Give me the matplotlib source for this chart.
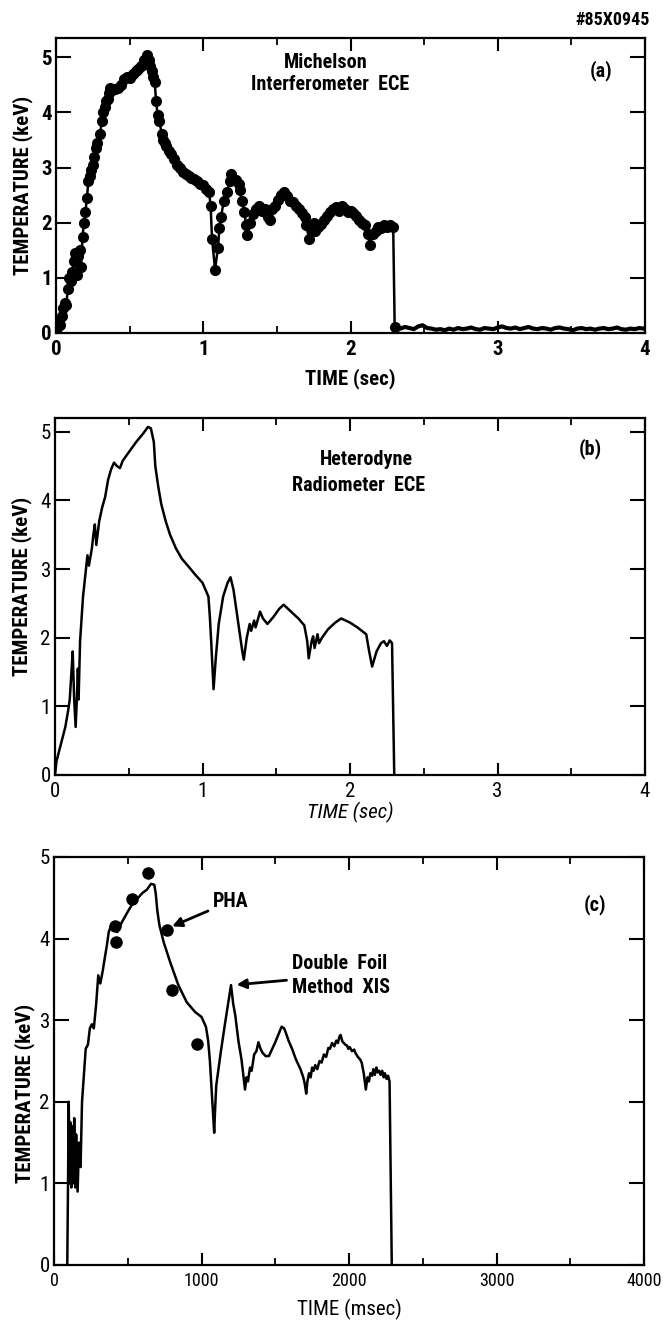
import matplotlib
matplotlib.use("Agg")
import matplotlib.pyplot as plt
from matplotlib.ticker import MultipleLocator

plt.rcParams['font.family'] = ['Roboto Condensed', 'DejaVu Sans']
plt.rcParams['font.stretch'] = 'condensed'

# ---------------- data ----------------
# (a) Michelson interferometer ECE, time in sec, Te in keV
mich_t = [0.00, 0.01, 0.02, 0.03, 0.04, 0.05, 0.06, 0.07, 0.08, 0.09,
          0.10, 0.11, 0.12, 0.13, 0.14, 0.15, 0.16, 0.17, 0.18, 0.19,
          0.20, 0.21, 0.22, 0.23, 0.24, 0.25, 0.26, 0.27, 0.28, 0.30,
          0.31, 0.32, 0.33, 0.34, 0.35, 0.36, 0.37, 0.38, 0.40, 0.42,
          0.44, 0.46, 0.48, 0.50, 0.52, 0.54, 0.56, 0.58, 0.60, 0.62,
          0.63, 0.64, 0.65, 0.66, 0.67, 0.68, 0.69, 0.70, 0.72, 0.73,
          0.74, 0.75, 0.77, 0.78, 0.80, 0.82, 0.84, 0.86, 0.88, 0.90,
          0.92, 0.94, 0.96, 0.98, 1.00, 1.02, 1.04, 1.05, 1.06, 1.08,
          1.10, 1.11, 1.12, 1.14, 1.16, 1.18, 1.19, 1.20, 1.22, 1.24,
          1.25, 1.26, 1.28, 1.29, 1.30, 1.32, 1.34, 1.36, 1.38, 1.40,
          1.42, 1.44, 1.45, 1.47, 1.49, 1.51, 1.53, 1.55, 1.57, 1.59,
          1.61, 1.63, 1.65, 1.67, 1.69, 1.70, 1.72, 1.73, 1.75, 1.76,
          1.78, 1.80, 1.82, 1.84, 1.86, 1.88, 1.90, 1.92, 1.94, 1.96,
          1.98, 2.00, 2.02, 2.04, 2.06, 2.08, 2.10, 2.12, 2.13, 2.15,
          2.17, 2.19, 2.21, 2.23, 2.25, 2.27, 2.29, 2.30]
mich_T = [0.05, 0.10, 0.20, 0.15, 0.30, 0.45, 0.55, 0.50, 0.80, 1.00,
          0.95, 1.10, 1.30, 1.45, 1.05, 1.40, 1.50, 1.20, 1.75, 2.00,
          2.20, 2.45, 2.75, 2.85, 2.95, 3.05, 3.20, 3.35, 3.45, 3.60,
          3.85, 4.00, 4.10, 4.20, 4.25, 4.35, 4.45, 4.40, 4.42, 4.45,
          4.50, 4.60, 4.65, 4.62, 4.70, 4.75, 4.78, 4.85, 4.95, 5.05,
          4.95, 4.85, 4.75, 4.65, 4.55, 4.20, 3.95, 3.85, 3.60, 3.50,
          3.45, 3.40, 3.30, 3.25, 3.15, 3.05, 3.00, 2.92, 2.88, 2.85,
          2.82, 2.80, 2.75, 2.70, 2.68, 2.62, 2.55, 2.30, 1.70, 1.15,
          1.55, 1.90, 2.10, 2.40, 2.55, 2.75, 2.88, 2.80, 2.78, 2.70,
          2.60, 2.40, 2.20, 1.95, 1.78, 2.00, 2.15, 2.25, 2.30, 2.22,
          2.25, 2.10, 2.05, 2.25, 2.30, 2.42, 2.50, 2.55, 2.48, 2.40,
          2.38, 2.30, 2.25, 2.18, 2.10, 1.95, 1.70, 1.88, 2.00, 1.85,
          1.92, 1.98, 2.05, 2.12, 2.20, 2.25, 2.28, 2.22, 2.30, 2.25,
          2.20, 2.22, 2.18, 2.12, 2.05, 2.00, 1.95, 1.80, 1.60, 1.80,
          1.85, 1.92, 1.90, 1.95, 1.92, 1.95, 1.92, 0.10]
tail_t = [2.31, 2.34, 2.37, 2.40, 2.43, 2.46, 2.49, 2.52, 2.55, 2.58,
          2.61, 2.64, 2.67, 2.70, 2.73, 2.76, 2.79, 2.82, 2.85, 2.88,
          2.91, 2.94, 2.97, 3.00, 3.03, 3.06, 3.09, 3.12, 3.15, 3.18,
          3.21, 3.24, 3.27, 3.30, 3.33, 3.36, 3.39, 3.42, 3.45, 3.48,
          3.51, 3.54, 3.57, 3.60, 3.63, 3.66, 3.69, 3.72, 3.75, 3.78,
          3.81, 3.84, 3.87, 3.90, 3.93, 3.96, 3.99]
tail_T = [0.10, 0.08, 0.11, 0.09, 0.07, 0.12, 0.14, 0.09, 0.08, 0.06,
          0.07, 0.05, 0.08, 0.06, 0.09, 0.07, 0.08, 0.10, 0.07, 0.06,
          0.09, 0.08, 0.07, 0.10, 0.12, 0.09, 0.08, 0.10, 0.07, 0.09,
          0.11, 0.08, 0.07, 0.09, 0.08, 0.06, 0.09, 0.10, 0.08, 0.07,
          0.05, 0.08, 0.09, 0.07, 0.08, 0.06, 0.08, 0.09, 0.07, 0.08,
          0.10, 0.07, 0.06, 0.08, 0.07, 0.09, 0.08]

# (b) Heterodyne radiometer ECE
het_t = [0.00, 0.01, 0.04, 0.07, 0.09, 0.10, 0.11, 0.12, 0.13, 0.14,
         0.15, 0.155, 0.16, 0.17, 0.19, 0.21, 0.22, 0.23, 0.25, 0.26,
         0.27, 0.28, 0.30, 0.32, 0.34, 0.36, 0.38, 0.40, 0.42, 0.44,
         0.46, 0.50, 0.55, 0.60, 0.63, 0.65, 0.67, 0.68, 0.70, 0.72,
         0.75, 0.78, 0.82, 0.86, 0.90, 0.95, 1.00, 1.02, 1.04, 1.05,
         1.06, 1.075, 1.09, 1.11, 1.14, 1.17, 1.19, 1.21, 1.23, 1.25,
         1.27, 1.28, 1.30, 1.32, 1.33, 1.35, 1.36, 1.38, 1.39, 1.41,
         1.44, 1.48, 1.52, 1.55, 1.60, 1.65, 1.69, 1.71, 1.72, 1.74,
         1.75, 1.76, 1.78, 1.79, 1.81, 1.85, 1.90, 1.94, 2.00, 2.05,
         2.11, 2.13, 2.15, 2.18, 2.21, 2.23, 2.25, 2.27, 2.285, 2.30]
het_T = [0.00, 0.20, 0.45, 0.70, 0.95, 1.10, 1.45, 1.80, 1.10, 0.70,
         1.20, 1.55, 1.10, 1.95, 2.60, 3.00, 3.20, 3.05, 3.30, 3.50,
         3.65, 3.35, 3.70, 3.90, 4.05, 4.30, 4.45, 4.55, 4.50, 4.47,
         4.58, 4.70, 4.85, 4.98, 5.07, 5.05, 4.85, 4.50, 4.20, 3.95,
         3.70, 3.50, 3.30, 3.15, 3.05, 2.92, 2.80, 2.70, 2.60, 2.30,
         1.90, 1.25, 1.70, 2.20, 2.60, 2.80, 2.88, 2.70, 2.40, 2.10,
         1.80, 1.68, 2.00, 2.20, 2.10, 2.25, 2.15, 2.30, 2.38, 2.28,
         2.20, 2.30, 2.42, 2.48, 2.38, 2.28, 2.18, 1.95, 1.70, 1.95,
         2.02, 1.85, 2.05, 1.92, 2.00, 2.12, 2.22, 2.28, 2.22, 2.15,
         2.05, 1.80, 1.58, 1.80, 1.92, 1.95, 1.88, 1.96, 1.92, 0.00]

# (c) Double foil method XIS (time in msec)
xis_t = [90, 100, 105, 110, 118, 125, 130, 137, 145, 150,
         160, 170, 180, 190, 205, 215, 230, 243, 257, 270,
         286, 300, 314, 330, 343, 357, 371, 385, 400, 414,
         429, 445, 460, 500, 530, 570, 600, 630, 657, 680,
         690, 700, 714, 743, 786, 843, 900, 957, 1000, 1030,
         1045, 1057, 1070, 1080, 1086, 1092, 1100, 1130, 1157, 1185,
         1200, 1215, 1229, 1250, 1271, 1285, 1295, 1305, 1315, 1329,
         1340, 1357, 1372, 1386, 1400, 1414, 1435, 1457, 1480, 1500,
         1520, 1543, 1560, 1571, 1590, 1614, 1640, 1671, 1690, 1700,
         1710, 1718, 1729, 1740, 1750, 1760, 1771, 1785, 1800, 1814,
         1830, 1845, 1860, 1871, 1885, 1900, 1914, 1925, 1935, 1943,
         1955, 1965, 1975, 1986, 1995, 2005, 2020, 2035, 2043, 2060,
         2075, 2086, 2100, 2110, 2114, 2125, 2135, 2145, 2157, 2165,
         2175, 2186, 2195, 2205, 2214, 2225, 2235, 2243, 2255, 2265,
         2275, 2290]
xis_T = [0.00, 2.00, 1.00, 1.75, 0.95, 1.70, 1.00, 1.80, 0.95, 1.60,
         0.90, 1.50, 1.20, 2.00, 2.40, 2.65, 2.70, 2.90, 2.95, 2.90,
         3.20, 3.55, 3.45, 3.60, 3.75, 3.90, 4.08, 4.15, 4.17, 4.12,
         4.08, 4.15, 4.20, 4.33, 4.42, 4.50, 4.56, 4.60, 4.67, 4.66,
         4.55, 4.35, 4.17, 3.96, 3.72, 3.43, 3.22, 3.10, 3.04, 2.92,
         2.75, 2.50, 2.10, 1.80, 1.62, 1.90, 2.20, 2.60, 2.93, 3.25,
         3.43, 3.20, 3.06, 2.75, 2.52, 2.30, 2.15, 2.30, 2.25, 2.42,
         2.38, 2.58, 2.62, 2.73, 2.65, 2.60, 2.56, 2.56, 2.65, 2.73,
         2.82, 2.92, 2.90, 2.85, 2.75, 2.65, 2.52, 2.40, 2.30, 2.22,
         2.10, 2.25, 2.35, 2.30, 2.42, 2.38, 2.45, 2.40, 2.50, 2.48,
         2.58, 2.55, 2.66, 2.65, 2.72, 2.68, 2.75, 2.72, 2.80, 2.82,
         2.74, 2.72, 2.70, 2.69, 2.65, 2.67, 2.62, 2.64, 2.60, 2.55,
         2.52, 2.48, 2.35, 2.20, 2.15, 2.30, 2.25, 2.35, 2.32, 2.40,
         2.33, 2.42, 2.36, 2.38, 2.33, 2.38, 2.30, 2.35, 2.28, 2.32,
         2.25, 0.00]

# (c) PHA points (msec, keV)
pha_t = [414, 420, 529, 637, 766, 800, 971]
pha_T = [4.15, 3.96, 4.48, 4.81, 4.11, 3.37, 2.71]

# ---------------- figure ----------------
W, H = 663, 1321
fig = plt.figure(figsize=(W / 100, H / 100), dpi=100)


def box(l, r, t, b):
    return [l / W, 1 - b / H, (r - l) / W, (b - t) / H]


axa = fig.add_axes(box(56, 645, 38, 333))
axb = fig.add_axes(box(55, 645, 418, 775))
axc = fig.add_axes(box(54, 644, 857, 1265))


def style(ax, xmax, xmaj, xmin, ymax, weight, xsize):
    ax.set_xlim(0, xmax)
    ax.set_ylim(0, ymax)
    ax.xaxis.set_major_locator(MultipleLocator(xmaj))
    ax.xaxis.set_minor_locator(MultipleLocator(xmin))
    ax.yaxis.set_major_locator(MultipleLocator(1))
    for s in ax.spines.values():
        s.set_linewidth(1.6)
    ax.tick_params(axis='x', which='major', direction='in', top=True, bottom=True,
                   length=9, width=1.5, pad=5, labelsize=xsize)
    ax.tick_params(axis='x', which='minor', direction='in', top=True, bottom=True,
                   length=5, width=1.3)
    ax.tick_params(axis='y', which='major', direction='in', left=True, right=True,
                   length=11, width=1.5, pad=3, labelsize=15)
    plt.setp(ax.get_xticklabels() + ax.get_yticklabels(), fontweight=weight)
    ax.set_ylabel("TEMPERATURE (keV)", fontsize=15, fontweight='bold')
    ax.yaxis.label.set_va('center')


# panel (a)
axa.plot(mich_t, mich_T, '-o', color='black', lw=1.8, ms=7)
axa.plot(tail_t, tail_T, '-', color='black', lw=3)
style(axa, 4, 1, 0.5, 5.35, 'bold', 15)
axa.set_xlabel("TIME (sec)", fontsize=15, fontweight='bold')
axa.xaxis.set_label_coords(0.5, -0.155)
axa.xaxis.label.set_va('center')
axa.yaxis.set_label_coords(-0.056, 0.5)
axa.text(1.83, 4.9, "Michelson", ha='center', va='center', fontsize=14.5, fontweight='bold')
axa.text(1.86, 4.5, "Interferometer  ECE", ha='center', va='center', fontsize=14.5, fontweight='bold')
axa.text(3.7, 4.76, "(a)", ha='center', va='center', fontsize=14.5, fontweight='bold')
fig.text(650 / W, 1 - 20 / H, "#85X0945", ha='right', va='center', fontsize=13, fontweight='bold')

# panel (b)
axb.plot(het_t, het_T, '-', color='black', lw=1.8)
style(axb, 4, 1, 0.5, 5.2, 'normal', 15)
axb.set_xlabel("TIME (sec)", fontsize=15, fontstyle='italic')
axb.xaxis.set_label_coords(0.5, -0.106)
axb.xaxis.label.set_va('center')
axb.yaxis.set_label_coords(-0.056, 0.527)
axb.text(2.11, 4.6, "Heterodyne", ha='center', va='center', fontsize=14.5, fontweight='bold')
axb.text(2.06, 4.22, "Radiometer  ECE", ha='center', va='center', fontsize=14.5, fontweight='bold')
axb.text(3.63, 4.75, "(b)", ha='center', va='center', fontsize=14.5, fontweight='bold')

# panel (c)
axc.plot(xis_t, xis_T, '-', color='black', lw=1.8)
axc.plot(pha_t, pha_T, 'o', color='black', ms=8)
style(axc, 4000, 1000, 500, 5, 'normal', 13)
axc.set_xlabel("TIME (msec)", fontsize=15)
axc.xaxis.set_label_coords(0.5, -0.11)
axc.xaxis.label.set_va('center')
axc.yaxis.set_label_coords(-0.05, 0.42)
axc.text(3671, 4.42, "(c)", ha='center', va='center', fontsize=14.5, fontweight='bold')
arrow = dict(arrowstyle='-|>', lw=2, color='black', mutation_scale=14, shrinkA=2, shrinkB=3)
axc.annotate("PHA", xy=(775, 4.13), xytext=(1080, 4.46), ha='left', va='center',
             fontsize=14.5, fontweight='bold', arrowprops=arrow)
axc.annotate("Double  Foil\nMethod  XIS", xy=(1210, 3.43), xytext=(1614, 3.55),
             ha='left', va='center', multialignment='left', linespacing=1.3,
             fontsize=14.5, fontweight='bold', arrowprops=arrow)

fig.savefig("out.png", dpi=100)
